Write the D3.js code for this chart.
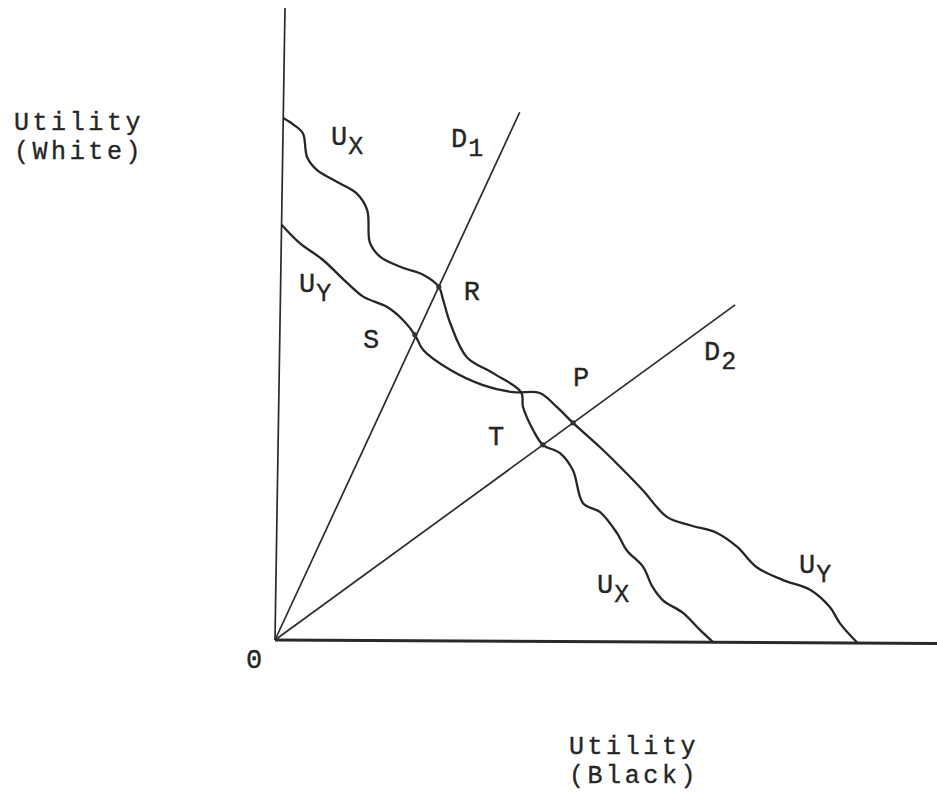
<!DOCTYPE html>
<html>
<head>
<meta charset="utf-8">
<script src="https://cdn.jsdelivr.net/npm/d3@7"></script>
<style>
  body { margin: 0; background: #fff; }
  text { font-family: "Courier New", Courier, "Liberation Mono", monospace; fill: #252525; stroke: #252525; stroke-width: 0.35; }
</style>
</head>
<body>
<div id="chart"></div>
<script>
// utility frontier for group X (white vs black utility)
const ux = [
  [0, 82.6], [1.5, 81.6], [3.0, 80.2], [3.7, 76.4], [5.2, 74.4], [8.3, 72.5],
  [11.3, 70.7], [12.9, 68.1], [13.4, 62.9], [15.0, 60.7], [18.4, 59.0], [21.5, 57.9],
  [23.9, 56.0], [24.6, 53.9], [25.7, 50.3], [28.3, 44.9], [32.3, 42.4], [36.6, 39.4],
  [36.9, 37.1], [38.5, 33.4], [40.0, 31.1], [42.6, 29.8], [44.6, 27.1], [46.2, 21.9],
  [48.8, 20.5], [51.4, 17.2], [52.9, 14.5], [55.4, 11.9], [56.9, 8.7], [58.5, 6.6],
  [61.6, 4.6], [64.2, 1.9], [66.2, 0]
];

// utility frontier for group Y
const uy = [
  [0, 65.7], [2.8, 62.8], [6.3, 60.2], [10.0, 56.6], [12.5, 54.4], [16.1, 52.8],
  [18.6, 50.7], [20.4, 48.4], [21.7, 46.0], [25.8, 42.9], [30.8, 40.5], [35.4, 39.4],
  [39.4, 39.3], [42.0, 37.1], [44.5, 34.6], [48.6, 30.8], [51.7, 27.7], [55.2, 24.0],
  [58.9, 19.8], [62.4, 18.5], [66.5, 17.3], [69.6, 15.1], [72.6, 11.9], [76.6, 9.9],
  [80.7, 8.4], [83.7, 5.7], [85.3, 3.1], [88.0, 0]
];

// rays from the origin (end points)
const d1 = [[0, 0], [35.7, 83.7]];
const d2 = [[0, 0], [68.7, 53.4]];

// marked intersections
const points = [
  { name: "R", x: 23.9, y: 56.0 },
  { name: "S", x: 20.4, y: 48.4 },
  { name: "P", x: 44.5, y: 34.6 },
  { name: "T", x: 40.0, y: 31.1 }
];

const width = 937, height = 799;

const svg = d3.select("#chart").append("svg")
  .attr("width", width)
  .attr("height", height);

const x = d3.scaleLinear().domain([0, 100]).range([0, 662]);
const y = d3.scaleLinear().domain([0, 100]).range([0, -632]);

// the scan is slightly skewed, so the plot group is too
const plot = svg.append("g")
  .attr("transform", "matrix(1,0.0052,-0.0158,1,275,640)");

const line = d3.line()
  .x(d => x(d[0]))
  .y(d => y(d[1]));

const curve = d3.line()
  .x(d => x(d[0]))
  .y(d => y(d[1]))
  .curve(d3.curveCatmullRom.alpha(0.5));

// axes
plot.append("path")
  .attr("d", line([[0, 0], [100, 0]]))
  .attr("stroke", "#2a2a2a").attr("stroke-width", 3).attr("fill", "none");
plot.append("path")
  .attr("d", line([[0, 0], [0, 100]]))
  .attr("stroke", "#2a2a2a").attr("stroke-width", 1.7).attr("fill", "none");

// rays
[d1, d2].forEach(d => {
  plot.append("path")
    .attr("d", line(d))
    .attr("stroke", "#2a2a2a").attr("stroke-width", 1.7).attr("fill", "none");
});

// frontiers
[ux, uy].forEach(d => {
  plot.append("path")
    .attr("d", curve(d))
    .attr("stroke", "#262626").attr("stroke-width", 2.3)
    .attr("fill", "none").attr("stroke-linejoin", "round");
});

plot.selectAll(".pt")
  .data(points)
  .join("circle")
  .attr("class", "pt")
  .attr("cx", d => x(d.x))
  .attr("cy", d => y(d.y))
  .attr("r", 2.6)
  .attr("fill", "#333");

// labels
const fs = 27;
function label(txt, px, py, sub) {
  const t = svg.append("text")
    .attr("x", px).attr("y", py)
    .attr("font-size", fs)
    .attr("letter-spacing", 1);
  t.append("tspan").text(txt);
  if (sub) {
    t.append("tspan").attr("dy", 9).attr("font-size", 25).text(sub);
  }
  return t;
}

label("U", 331, 145, "X");
label("D", 451, 147, "1");
label("U", 299, 292, "Y");
label("D", 704, 360, "2");
label("U", 597, 593, "X");
label("U", 799, 573, "Y");

const offs = { R: [25, 13], S: [-52, 13], P: [0, -37], T: [-55, 0] };
points.forEach(p => {
  const lx = 275 + x(p.x) - 0.0158 * y(p.y);
  const ly = 640 + y(p.y) + 0.0052 * x(p.x);
  svg.append("text")
    .attr("x", lx + offs[p.name][0])
    .attr("y", ly + offs[p.name][1])
    .attr("font-size", fs)
    .text(p.name);
});

svg.append("text").attr("x", 246).attr("y", 668).attr("font-size", fs).text("0");

// axis titles
function title(lines, cx, by) {
  lines.forEach((s, i) => {
    svg.append("text")
      .attr("x", cx).attr("y", by + i * 29)
      .attr("text-anchor", "middle")
      .attr("font-size", 25)
      .attr("letter-spacing", 3.6)
      .text(s);
  });
}
title(["Utility", "(White)"], 79, 130);
title(["Utility", "(Black)"], 634, 754);
</script>
</body>
</html>
